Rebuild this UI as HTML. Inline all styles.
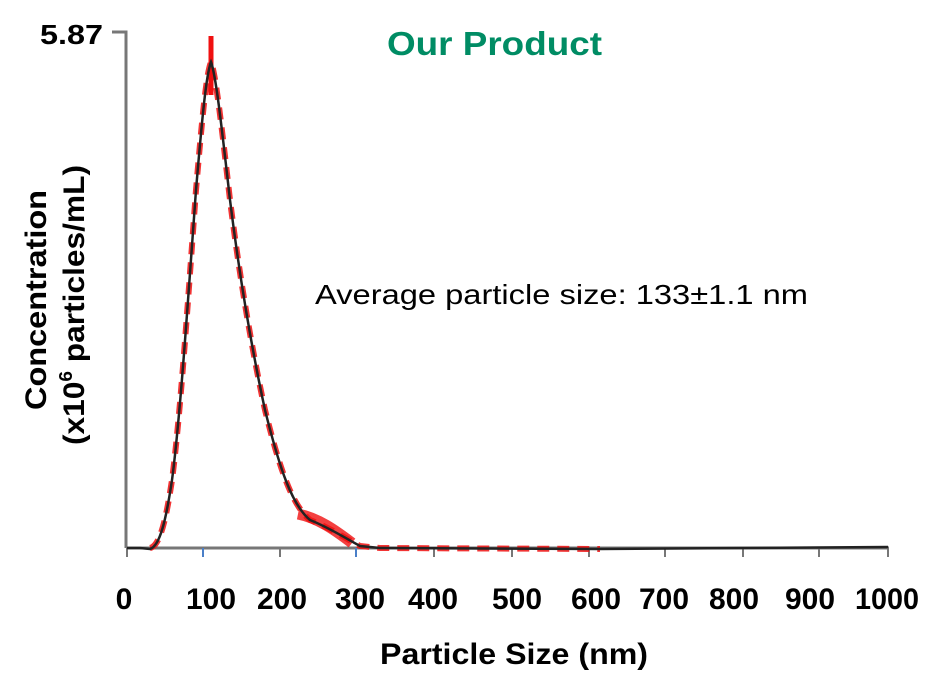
<!DOCTYPE html>
<html><head><meta charset="utf-8"><style>
body{margin:0;background:#fff;width:941px;height:692px;overflow:hidden}
</style></head><body>
<svg width="941" height="692" viewBox="0 0 941 692" xmlns="http://www.w3.org/2000/svg" font-family="Liberation Sans, Arial, sans-serif">
<rect width="941" height="692" fill="#fff"/>
<polyline points="112,32 126,32 126,548" fill="none" stroke="#777" stroke-width="3"/>
<line x1="126" y1="548" x2="889" y2="548" stroke="#777" stroke-width="3"/>
<g stroke="#777" stroke-width="2">
<line x1="127" y1="548" x2="127" y2="557"/><line x1="203" y1="548" x2="203" y2="557" stroke="#4a7fc8"/>
<line x1="280" y1="548" x2="280" y2="557"/><line x1="356" y1="548" x2="356" y2="557" stroke="#4a7fc8"/>
<line x1="434" y1="548" x2="434" y2="557"/><line x1="512" y1="548" x2="512" y2="557"/>
<line x1="589" y1="548" x2="589" y2="557"/><line x1="665" y1="548" x2="665" y2="557"/>
<line x1="743" y1="548" x2="743" y2="557"/><line x1="819" y1="548" x2="819" y2="557"/>
<line x1="888" y1="548" x2="888" y2="557"/>
</g>
<path d="M150,548 C160,546 166,520 172,480 C180,420 188,300 196,190 C202,120 206,75 211,62 C216,75 222,130 230,200 C240,280 252,350 265,410 C280,470 292,505 310,520 C330,528 345,538 360,546 L380,548 L600,549" fill="none" stroke="#f01010" stroke-width="6" stroke-dasharray="12 8" opacity="0.85"/>
<path d="M298,514 C318,518 335,530 352,543" fill="none" stroke="#f01010" stroke-width="11" opacity="0.8"/>
<line x1="211" y1="36" x2="211" y2="95" stroke="#f01010" stroke-width="5"/>
<path d="M127,548 L140,548 150,549 C160,546 166,520 172,480 C180,420 188,300 196,190 C202,120 206,75 211,62 C216,75 222,130 230,200 C240,280 252,350 265,410 C280,470 292,505 310,520 C330,528 345,538 360,546 L380,548 L600,549 L888,547" fill="none" stroke="#222" stroke-width="2.5"/>
<text x="40" y="44" font-size="28" font-weight="bold" textLength="63" lengthAdjust="spacingAndGlyphs">5.87</text>
<text x="387" y="55" font-size="33" font-weight="bold" fill="#008c64" textLength="215" lengthAdjust="spacingAndGlyphs">Our Product</text>
<text x="315" y="304" font-size="28" fill="#000" textLength="493" lengthAdjust="spacingAndGlyphs">Average particle size: 133±1.1 nm</text>
<g font-size="30" font-weight="bold" text-anchor="middle">
<text transform="translate(46,300) rotate(-90)" textLength="220" lengthAdjust="spacingAndGlyphs">Concentration</text>
<text transform="translate(84,305) rotate(-90)" textLength="280" lengthAdjust="spacingAndGlyphs">(x10<tspan font-size="18" dy="-12">6</tspan><tspan dy="12"> particles/mL)</tspan></text>
</g>
<g font-size="30" font-weight="bold" text-anchor="middle">
<text x="124" y="609">0</text>
<text x="211" y="609" textLength="50" lengthAdjust="spacingAndGlyphs">100</text>
<text x="282" y="609" textLength="50" lengthAdjust="spacingAndGlyphs">200</text>
<text x="360" y="609" textLength="50" lengthAdjust="spacingAndGlyphs">300</text>
<text x="433" y="609" textLength="50" lengthAdjust="spacingAndGlyphs">400</text>
<text x="517" y="609" textLength="50" lengthAdjust="spacingAndGlyphs">500</text>
<text x="596" y="609" textLength="50" lengthAdjust="spacingAndGlyphs">600</text>
<text x="664" y="609" textLength="50" lengthAdjust="spacingAndGlyphs">700</text>
<text x="734" y="609" textLength="50" lengthAdjust="spacingAndGlyphs">800</text>
<text x="810" y="609" textLength="50" lengthAdjust="spacingAndGlyphs">900</text>
<text x="887" y="609" textLength="64" lengthAdjust="spacingAndGlyphs">1000</text>
</g>
<text x="380" y="664" font-size="30" font-weight="bold" textLength="268" lengthAdjust="spacingAndGlyphs">Particle Size (nm)</text>
</svg>
</body></html>
